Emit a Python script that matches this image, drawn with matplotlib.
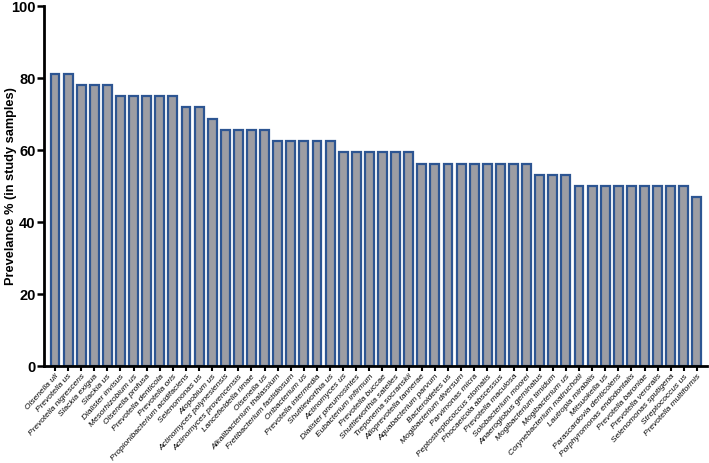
import matplotlib
matplotlib.use("Agg")
import matplotlib.pyplot as plt

# Species (in plot order) and prevalence (% of 32 study samples)
species = [
    "Olsenella uli", "Prevotella us",
    "Prevotella nigrescens", "Slackia exigua", "Slackia us",
    "Dialister invisus", "Mesorhizobium us", "Olsenella profusa",
    "Prevotella denticola", "Prevotella oris",
    "Propionibacterium acidifaciens", "Selenomonas us",
    "Atopobium us",
    "Actinomyces polynesiensis", "Actinomyces provencensis",
    "Lancefieldella rimae", "Olsenella us",
    "Alkalibacterium thalassium", "Fretibacterium fastidiosum",
    "Oribacterium us", "Prevotella intermedia", "Shuttleworthia us",
    "Actinomyces us", "Dialister pneumosintes", "Eubacterium infirmum",
    "Prevotella buccae", "Shuttleworthia satelles", "Treponema socranskii",
    "Alloprevotella tannerae", "Aquabacterium parvum", "Bacteroidetes us",
    "Mogibacterium diversum", "Parvimonas micra",
    "Peptostreptococcus stomatis", "Phocaeicola abscessus",
    "Prevotella maculosa", "Solobacterium moorei",
    "Anaeroglobus geminatus", "Mogibacterium timidum", "Mogibacterium us",
    "Corynebacterium matruchotii", "Lautropia mirabilis", "Mitsuokella us",
    "Parascardovia denticolens", "Porphyromonas endodontalis",
    "Prevotella baroniae", "Prevotella veroralis", "Selenomonas sputigena",
    "Streptococcus us",
    "Prevotella multiformis",
]
prevalence = [
    81.25, 81.25,
    78.1, 78.1, 78.1,
    75, 75, 75, 75, 75,
    71.9, 71.9,
    68.75,
    65.6, 65.6, 65.6, 65.6,
    62.5, 62.5, 62.5, 62.5, 62.5,
    59.4, 59.4, 59.4, 59.4, 59.4, 59.4,
    56.25, 56.25, 56.25, 56.25, 56.25, 56.25, 56.25, 56.25, 56.25,
    53.1, 53.1, 53.1,
    50, 50, 50, 50, 50, 50, 50, 50, 50,
    46.9,
]
y_ticks = [0, 20, 40, 60, 80, 100]

plt.rcParams["font.family"] = ["Liberation Sans", "DejaVu Sans"]

fig = plt.figure(figsize=(7.09, 4.63), dpi=100)
ax = fig.add_axes([0.062, 0.2095, 0.935, 0.7775])

x = range(len(species))
ax.bar(x, prevalence, width=0.68, color="#9d9da3", edgecolor="#2d5592",
       linewidth=1.6)

ax.set_ylim(0, 100)
ax.set_xlim(-0.84, len(species) - 0.24)
ax.set_yticks(y_ticks)
ax.set_yticklabels([str(t) for t in y_ticks], fontsize=10.5, fontweight="bold")
ax.set_xticks(list(x))
ax.set_xticklabels(species, rotation=48, ha="right", rotation_mode="anchor",
                   fontsize=6.0, fontstyle="italic")
ax.set_ylabel("Prevelance % (in study samples)", fontsize=9.2, fontweight="bold")
ax.yaxis.set_label_coords(-0.04, 0.5)

for side in ["top", "right"]:
    ax.spines[side].set_visible(False)
for side in ["left", "bottom"]:
    ax.spines[side].set_linewidth(2)
ax.tick_params(axis="y", direction="out", length=5, width=1.8, pad=1)
ax.tick_params(axis="x", direction="out", length=3.5, width=1.5, pad=1.5)

fig.savefig("out.png", dpi=100)
